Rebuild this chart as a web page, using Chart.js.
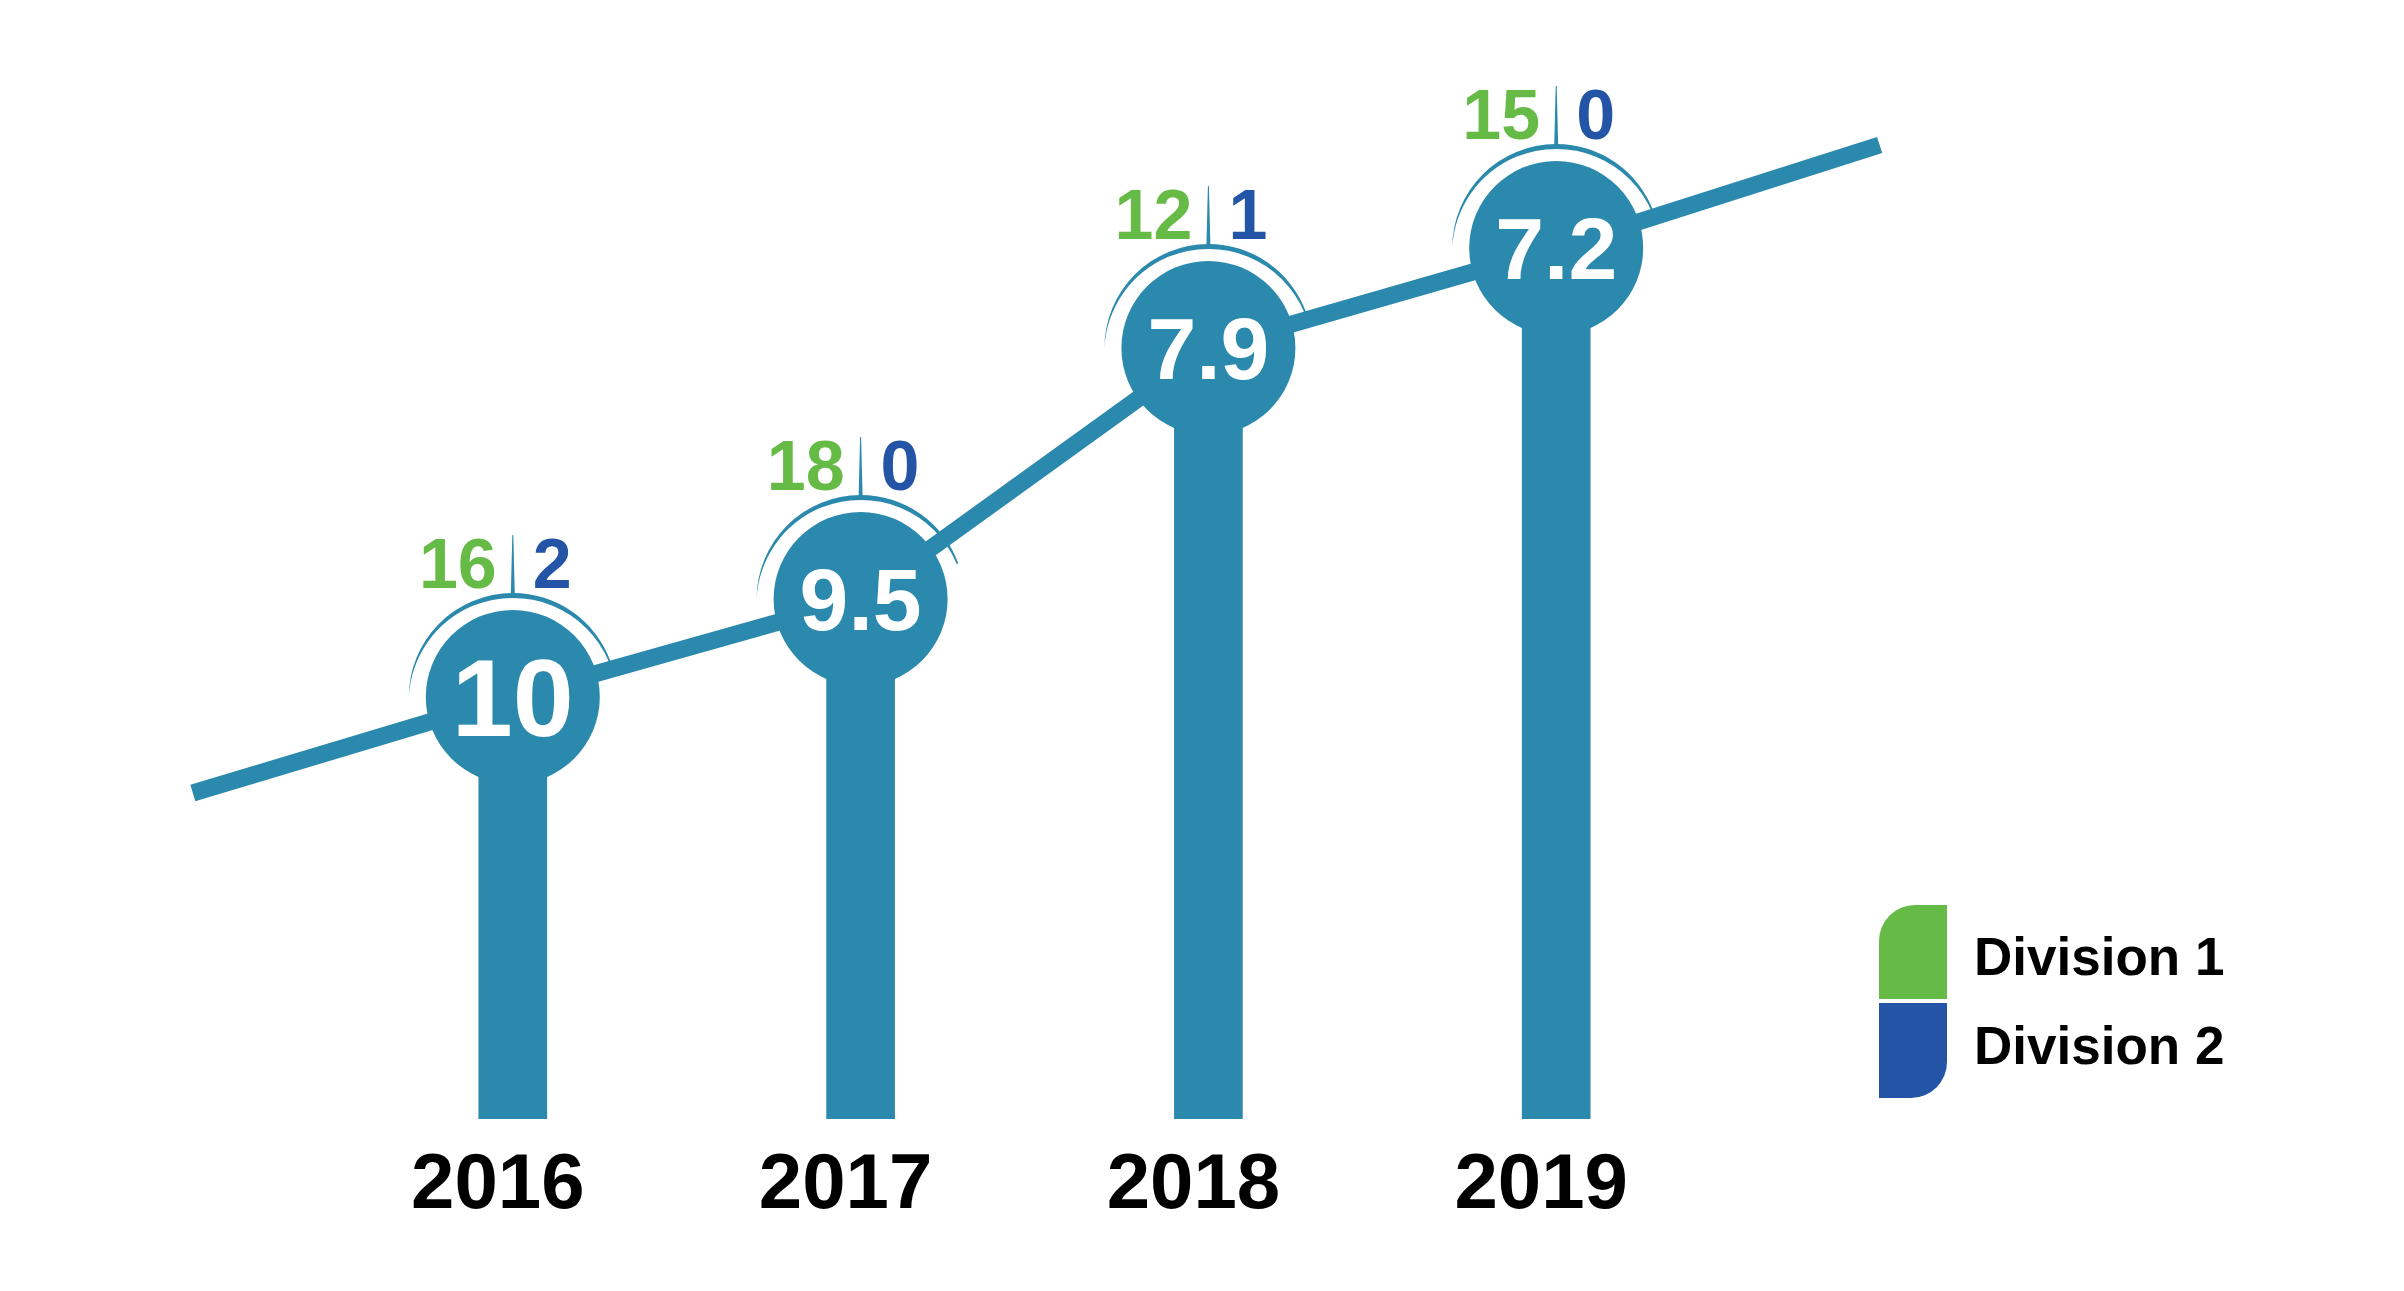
<!DOCTYPE html>
<html>
<head>
<meta charset="utf-8">
<title>Division results 2016-2019</title>
<script src="https://cdn.jsdelivr.net/npm/chart.js@4/dist/chart.umd.min.js"></script>
<style>
  html, body { margin: 0; padding: 0; background: #ffffff; }
  .chart-wrap { width: 2404px; height: 1291px; position: relative; }
</style>
</head>
<body>
<div class="chart-wrap"><canvas id="chart"></canvas></div>
<script>
const years = [2016, 2017, 2018, 2019];
const scores = [10, 9.5, 7.9, 7.2];
const division1 = [16, 18, 12, 15];
const division2 = [2, 0, 1, 0];
// height of each column / trend point (unitless)
const levels = [42.2, 52.0, 77.1, 87.1];
// trend line runs a bit past the first and last year
const trendStart = { x: 2015.08, y: 32.6 };
const trendEnd = { x: 2019.93, y: 97.4 };
const legendLabels = ['Division 1', 'Division 2'];

const TEAL = '#2b89ad';
const GREEN = '#66bb46';
const BLUE = '#2354a5';
const FONT = '"Liberation Sans", Arial, sans-serif';

const barData = years.map((yr, i) => ({ x: yr, y: levels[i] }));
const trendData = [trendStart, ...barData, trendEnd];

const overlay = {
  id: 'overlay',
  afterDatasetsDraw(chart) {
    const ctx = chart.ctx;
    const xs = chart.scales.x;
    const ys = chart.scales.y;
    const area = chart.chartArea;

    ctx.save();
    years.forEach((yr, i) => {
      const cx = xs.getPixelForValue(yr);
      const cy = ys.getPixelForValue(levels[i]);

      // value inside the circle, sized to fit
      const label = String(scores[i]);
      ctx.font = `bold 100px ${FONT}`;
      const w = ctx.measureText(label).width / 100;
      const fs = Math.min(110, 122 / w);
      ctx.font = `bold ${fs}px ${FONT}`;
      ctx.fillStyle = '#ffffff';
      ctx.textAlign = 'center';
      ctx.textBaseline = 'alphabetic';
      ctx.fillText(label, cx, cy + fs * 0.358);

      // thin tapered arc over the circle
      const R = 104, t = 5;
      const r2 = Math.sqrt(R * R + t * t);
      const aEnd = Math.PI * 2 - 0.35;
      const inEnd = Math.atan2(R * Math.sin(aEnd) - t, R * Math.cos(aEnd));
      const inStart = Math.atan2(-t, -R);
      ctx.beginPath();
      ctx.arc(cx, cy, R, Math.PI, aEnd, false);
      ctx.arc(cx, cy + t, r2, inEnd, inStart, true);
      ctx.closePath();
      ctx.fillStyle = TEAL;
      ctx.fill();

      // small divider above the arc
      ctx.beginPath();
      ctx.moveTo(cx - 2, cy - R + 2);
      ctx.lineTo(cx - 0.5, cy - 162);
      ctx.lineTo(cx + 0.5, cy - 162);
      ctx.lineTo(cx + 2, cy - R + 2);
      ctx.closePath();
      ctx.fill();

      // division counts
      ctx.font = `bold 70px ${FONT}`;
      ctx.textBaseline = 'alphabetic';
      ctx.fillStyle = GREEN;
      ctx.textAlign = 'right';
      ctx.fillText(String(division1[i]), cx - 16, cy - 109);
      ctx.fillStyle = BLUE;
      ctx.textAlign = 'left';
      ctx.fillText(String(division2[i]), cx + 20, cy - 109);

      // year under the column
      ctx.font = `bold 78px ${FONT}`;
      ctx.fillStyle = '#000000';
      ctx.textAlign = 'center';
      ctx.fillText(String(yr), cx - 15, area.bottom + 89);
    });

    // legend
    const lx = area.right - 25;
    const lw = 68, lh = 94, rad = 36;
    const top = area.bottom - 214;
    ctx.fillStyle = GREEN;
    ctx.beginPath();
    ctx.roundRect(lx, top, lw, lh, [rad, 0, 0, 0]);
    ctx.fill();
    ctx.fillStyle = BLUE;
    ctx.beginPath();
    ctx.roundRect(lx, top + lh + 4, lw, lh + 1, [0, 0, rad, 0]);
    ctx.fill();

    ctx.font = `bold 53px ${FONT}`;
    ctx.fillStyle = '#000000';
    ctx.textAlign = 'left';
    ctx.fillText(legendLabels[0], lx + 95, top + 70);
    ctx.fillText(legendLabels[1], lx + 95, top + 159);
    ctx.restore();
  }
};

new Chart(document.getElementById('chart'), {
  type: 'bar',
  data: {
    datasets: [
      {
        type: 'bar',
        label: 'Level',
        data: barData,
        backgroundColor: TEAL,
        barThickness: 68,
        order: 2
      },
      {
        type: 'line',
        label: 'Trend',
        data: trendData,
        borderColor: TEAL,
        borderWidth: 17,
        tension: 0,
        clip: false,
        pointRadius: (c) => (c.dataIndex === 0 || c.dataIndex === trendData.length - 1) ? 0 : 87,
        pointBackgroundColor: TEAL,
        pointBorderWidth: 0,
        order: 1
      }
    ]
  },
  options: {
    responsive: true,
    maintainAspectRatio: false,
    animation: false,
    events: [],
    layout: {
      autoPadding: false,
      padding: { left: 165, right: 500, top: 119, bottom: 172 }
    },
    scales: {
      x: { type: 'linear', min: 2015, max: 2020, offset: false, display: false },
      y: { min: 0, max: 100, display: false }
    },
    plugins: {
      legend: { display: false },
      tooltip: { enabled: false }
    }
  },
  plugins: [overlay]
});
</script>
</body>
</html>
